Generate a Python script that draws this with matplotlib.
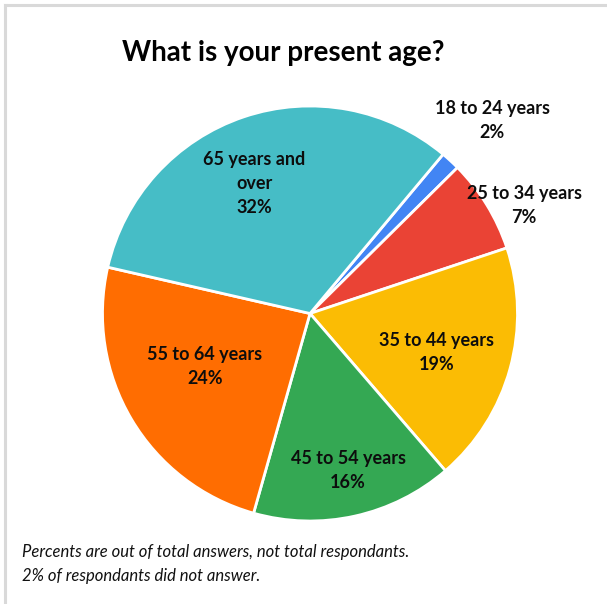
import numpy as np
import matplotlib.pyplot as plt
from matplotlib.lines import Line2D

labels = ['18 to 24 years', '25 to 34 years', '35 to 44 years',
          '45 to 54 years', '55 to 64 years', '65 years and\nover']
shares = [1.5, 7.3, 18.8, 15.7, 24.2, 32.5]   # slice sizes
shown_pct = [2, 7, 19, 16, 24, 32]            # percents printed on the chart
colors = ['#4285F4', '#EA4335', '#FBBC04', '#34A853', '#FF6D01', '#46BDC6']

# where each label sits: fraction of radius and small angle nudge (deg)
label_dist = [1.28, 1.157, 0.64, 0.78, 0.568, 0.68]
label_nudge = [-0.8, -4.7, -1.6, 1.1, -3.7, 4.7]

plt.rcParams['font.family'] = ['Lato', 'DejaVu Sans']

fig = plt.figure(figsize=(6.07, 6.04), dpi=100)

# pie centre ~ (310, 313.5) px, radius ~207.5 px
L = 1.3
w = 207.5 * 2 * L
ax = fig.add_axes([(310 - w / 2) / 607, (604 - 313.5 - w / 2) / 604, w / 607, w / 604])

wedges, _ = ax.pie(shares, colors=colors, startangle=50.1, counterclock=False,
                   radius=1, wedgeprops=dict(edgecolor='white', linewidth=2))
ax.set_xlim(-L, L)
ax.set_ylim(-L, L)
ax.set_aspect('equal')
ax.axis('off')

for wdg, lab, pct, d, n in zip(wedges, labels, shown_pct, label_dist, label_nudge):
    mid = np.deg2rad((wdg.theta1 + wdg.theta2) / 2 + n)
    ax.text(d * np.cos(mid), d * np.sin(mid), f'{lab}\n{pct}%',
            ha='center', va='center', fontsize=13, fontweight='bold',
            linespacing=1.5, color='#0d0d0d')

fig.text(0.467, 1 - 53 / 604, 'What is your present age?', ha='center', va='center',
         fontsize=20, fontweight='bold')

fig.text(22 / 607, 1 - 564 / 604,
         'Percents are out of total answers, not total respondants.\n'
         '2% of respondants did not answer.',
         ha='left', va='center', fontsize=12, style='italic', linespacing=1.55,
         color='#111111')

# light frame at top and left
fig.add_artist(Line2D([5 / 607, 1], [1 - 4.5 / 604] * 2, color='#d9d9d9', lw=2.2))
fig.add_artist(Line2D([5 / 607] * 2, [0, 1 - 4.5 / 604], color='#d9d9d9', lw=2.2))

fig.savefig('out.png', dpi=100)
